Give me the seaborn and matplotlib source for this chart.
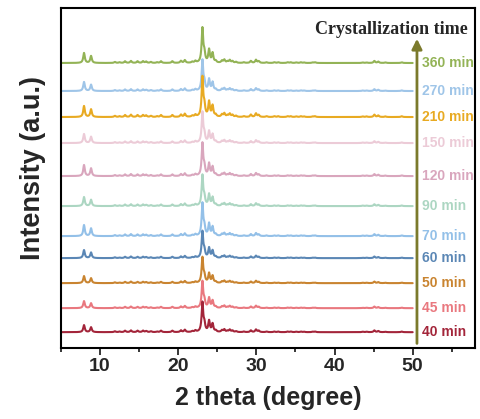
import numpy as np
import pandas as pd
import matplotlib
matplotlib.use("Agg")
import matplotlib.pyplot as plt
import seaborn as sns
from matplotlib.ticker import MultipleLocator

# sample labels (bottom -> top) and colours
samples = ["40 min", "45 min", "50 min", "60 min", "70 min", "90 min",
           "120 min", "150 min", "210 min", "270 min", "360 min"]
colors = ["#a3253a", "#e9787f", "#c98430", "#5b87b5", "#93c0e8", "#acd6c2",
          "#d9a6bd", "#eccbd7", "#e8aa22", "#9fc5e8", "#93b356"]
# baseline offsets of each pattern (arbitrary units)
offsets = [16, 40, 65, 90, 112, 142, 172, 205, 231, 257, 285]
# height of the main 23.1 deg reflection and of the 7.9 deg reflection
main_peak = [29, 26, 25, 26, 32, 30, 32, 30, 39, 30, 34]
low_peak = [7, 7, 7, 8, 11, 9, 11, 9, 11, 9, 10]

# reflection table (2theta, relative intensity)
peak_pos = [7.95, 8.85, 11.9, 12.5, 13.2, 13.95, 14.8, 15.5, 15.9, 16.5,
            17.3, 17.8, 19.25, 20.35, 20.85, 21.8, 22.2, 23.1, 23.35, 23.95,
            24.4, 24.8, 25.6, 25.9, 26.3, 26.6, 26.95, 27.4, 28.4, 29.3,
            29.95, 30.3, 31.3, 32.3, 32.8, 34.0, 34.4, 35.1, 35.7, 36.1,
            37.2, 37.5, 43.6, 44.1, 45.1, 45.6, 46.5, 48.6]
peak_rel = [0.0, 0.0, 0.03, 0.02, 0.05, 0.06, 0.05, 0.05, 0.04, 0.03,
            0.02, 0.05, 0.05, 0.06, 0.08, 0.03, 0.05, 1.0, 0.25, 0.38,
            0.28, 0.05, 0.06, 0.09, 0.04, 0.08, 0.05, 0.03, 0.02, 0.06,
            0.09, 0.05, 0.02, 0.02, 0.02, 0.02, 0.02, 0.015, 0.02, 0.015,
            0.015, 0.02, 0.015, 0.015, 0.06, 0.04, 0.015, 0.02]
low_rel = [1.0, 0.7]

two_theta = np.arange(5, 50.001, 0.02)


def pattern(i):
    y = np.zeros_like(two_theta)
    w = 0.12
    for k, (p, r) in enumerate(zip(peak_pos, peak_rel)):
        h = main_peak[i] * r
        if k < 2:
            h = low_peak[i] * low_rel[k]
        y += h * w**2 / ((two_theta - p) ** 2 + w**2)
    return y + offsets[i]


frames = []
for i, s in enumerate(samples):
    frames.append(pd.DataFrame({"two_theta": two_theta,
                                "intensity": pattern(i),
                                "sample": s}))
df = pd.concat(frames, ignore_index=True)

sns.set_style("white")
plt.rcParams["font.family"] = ["Liberation Sans", "DejaVu Sans"]

fig = plt.figure(figsize=(4.8, 4.19), dpi=100)
ax = fig.add_axes([0.127, 0.169, 0.863, 0.812])

# draw top pattern first so lower ones lie on top
for s in samples[::-1]:
    sns.lineplot(data=df[df["sample"] == s], x="two_theta", y="intensity",
                 color=colors[samples.index(s)], lw=1.5, ax=ax,
                 estimator=None, legend=False)

for s, c, o in zip(samples, colors, offsets):
    ax.text(51.2, o, s, color=c, fontsize=10, fontweight="bold",
            va="center", ha="left")

arrow_col = "#7b7a2c"
ax.annotate("", xy=(50.55, 312), xytext=(50.55, 2),
            arrowprops=dict(arrowstyle="-|>", color=arrow_col, lw=2,
                            mutation_scale=15))
ax.text(57.1, 318, "Crystallization time", family="Liberation Serif",
        fontsize=13, fontweight="bold", ha="right", va="center")

ax.set_xlim(5, 58)
ax.set_ylim(0, 340)
ax.set_yticks([])
ax.xaxis.set_minor_locator(MultipleLocator(5))
ax.set_xticks([10, 20, 30, 40, 50])
ax.tick_params(axis="x", which="major", direction="out", length=5, width=1.3,
               labelsize=14, pad=2, bottom=True)
ax.tick_params(axis="x", which="minor", direction="out", length=3, width=1.3,
               bottom=True)
for lab in ax.get_xticklabels():
    lab.set_fontweight("bold")
for sp in ax.spines.values():
    sp.set_linewidth(1.5)
    sp.set_color("black")

ax.set_xlabel("2 theta (degree)", fontsize=18, fontweight="bold")
ax.set_ylabel("Intensity (a.u.)", fontsize=19.5, fontweight="bold")
ax.xaxis.set_label_coords(0.5, -0.112)
ax.yaxis.set_label_coords(-0.036, 0.53)

fig.savefig("out.png", dpi=100)
